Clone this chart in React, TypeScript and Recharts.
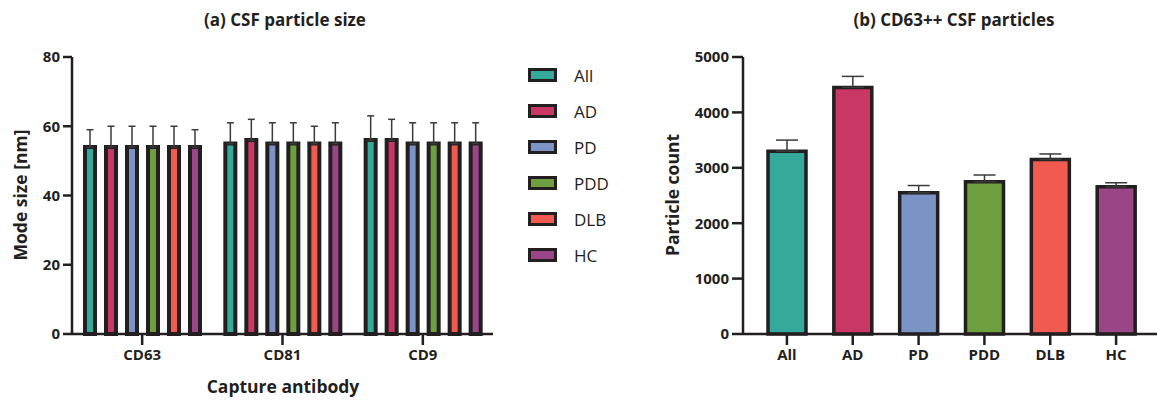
import { BarChart, Bar, XAxis, YAxis, ErrorBar, Cell } from 'recharts';

// groups and their colours
const groups = ['All', 'AD', 'PD', 'PDD', 'DLB', 'HC'];
const groupColors = ['#35AA9B', '#C93764', '#7B93C5', '#6E9E3D', '#F05A50', '#9A4585'];

// (a) mode size per capture antibody
const antibodies = ['CD63', 'CD81', 'CD9'];
const allSize = [54, 55, 56];
const allSizeErr = [5, 6, 7];
const adSize = [54, 56, 56];
const adSizeErr = [6, 6, 6];
const pdSize = [54, 55, 55];
const pdSizeErr = [6, 6, 6];
const pddSize = [54, 55, 55];
const pddSizeErr = [6, 6, 6];
const dlbSize = [54, 55, 55];
const dlbSizeErr = [6, 5, 6];
const hcSize = [54, 55, 55];
const hcSizeErr = [5, 6, 6];
const sizeTicks = [0, 20, 40, 60, 80];

// (b) CD63++ particle counts
const particleCount = [3300, 4450, 2550, 2750, 3150, 2660];
const particleCountErr = [200, 200, 130, 120, 100, 70];
const countTicks = [0, 1000, 2000, 3000, 4000, 5000];

const INK = '#231F20';
const FONT = '"Open Sans", sans-serif';

const sizeSeries = [
  [allSize, allSizeErr],
  [adSize, adSizeErr],
  [pdSize, pdSizeErr],
  [pddSize, pddSizeErr],
  [dlbSize, dlbSizeErr],
  [hcSize, hcSizeErr],
];

const sizeData = antibodies.map((ab, i) => {
  const row: Record<string, any> = { antibody: ab };
  groups.forEach((g, k) => {
    row[g] = sizeSeries[k][0][i];
    row[g + '_err'] = [0, sizeSeries[k][1][i]];
  });
  return row;
});

const countData = groups.map((g, i) => ({
  group: g,
  count: particleCount[i],
  err: [0, particleCountErr[i]],
}));

const tickStyle = { fontSize: 15, fontWeight: 700, fill: INK, fontFamily: FONT };
const axisLine = { stroke: INK, strokeWidth: 2.5 };
const tickLine = { stroke: INK, strokeWidth: 2.5 };

const titleStyle: React.CSSProperties = {
  position: 'absolute',
  fontFamily: FONT,
  fontWeight: 700,
  color: INK,
  whiteSpace: 'nowrap',
  transform: 'translate(-50%, -50%)',
};

export default function App() {
  return (
    <div style={{ position: 'absolute', left: 0, top: 0, width: 1157, height: 402, background: '#fff' }}>
      {/* (a) */}
      <div style={{ position: 'absolute', left: 0, top: 0 }}>
        <BarChart
          width={500}
          height={402}
          data={sizeData}
          margin={{ top: 57, right: 7, bottom: 38, left: 0 }}
          barSize={10}
          barGap={11}
        >
          <XAxis
            dataKey="antibody"
            height={30}
            stroke={INK}
            tick={tickStyle}
            axisLine={axisLine}
            tickLine={tickLine}
            tickSize={11}
            tickMargin={4}
          />
          <YAxis
            width={72}
            domain={[0, 80]}
            ticks={sizeTicks}
            stroke={INK}
            tick={tickStyle}
            axisLine={axisLine}
            tickLine={tickLine}
            tickSize={9}
            tickMargin={3}
          />
          {groups.map((g, k) => (
            <Bar key={g} dataKey={g} fill={groupColors[k]} stroke={INK} strokeWidth={4} isAnimationActive={false}>
              <ErrorBar dataKey={g + '_err'} width={3.5} stroke="#3a3a3a" strokeWidth={1.5} direction="y" />
            </Bar>
          ))}
        </BarChart>
      </div>
      <div style={{ ...titleStyle, left: 285, top: 19, fontSize: 17 }}>(a) CSF particle size</div>
      <div style={{ ...titleStyle, left: 283, top: 386, fontSize: 17.5 }}>Capture antibody</div>
      <div style={{ ...titleStyle, left: 20, top: 195, fontSize: 17.5, transform: 'translate(-50%, -50%) rotate(-90deg)' }}>
        Mode size [nm]
      </div>

      {/* legend for (a) */}
      <div style={{ position: 'absolute', left: 528, top: 57, fontFamily: FONT }}>
        {groups.map((g, k) => (
          <div key={g} style={{ display: 'flex', alignItems: 'center', height: 36 }}>
            <div
              style={{
                width: 23,
                height: 8,
                background: groupColors[k],
                border: `3px solid ${INK}`,
              }}
            />
            <span style={{ marginLeft: 17, fontSize: 17, color: INK }}>{g}</span>
          </div>
        ))}
      </div>

      {/* (b) */}
      <div style={{ position: 'absolute', left: 640, top: 0 }}>
        <BarChart
          width={517}
          height={402}
          data={countData}
          margin={{ top: 57, right: 0, bottom: 38, left: 0 }}
          barSize={38}
        >
          <XAxis
            dataKey="group"
            height={30}
            stroke={INK}
            tick={tickStyle}
            axisLine={axisLine}
            tickLine={tickLine}
            tickSize={11}
            tickMargin={4}
            padding={{ left: 11, right: 8 }}
          />
          <YAxis
            width={103}
            domain={[0, 5000]}
            ticks={countTicks}
            stroke={INK}
            tick={tickStyle}
            axisLine={axisLine}
            tickLine={tickLine}
            tickSize={11}
            tickMargin={3}
          />
          <Bar dataKey="count" stroke={INK} strokeWidth={3.5} isAnimationActive={false}>
            {countData.map((d, i) => (
              <Cell key={d.group} fill={groupColors[i]} />
            ))}
            <ErrorBar dataKey="err" width={11} stroke="#3a3a3a" strokeWidth={1.5} direction="y" />
          </Bar>
        </BarChart>
      </div>
      <div style={{ ...titleStyle, left: 954, top: 19, fontSize: 17 }}>(b) CD63++ CSF particles</div>
      <div style={{ ...titleStyle, left: 672, top: 195, fontSize: 17.5, transform: 'translate(-50%, -50%) rotate(-90deg)' }}>
        Particle count
      </div>
    </div>
  );
}
